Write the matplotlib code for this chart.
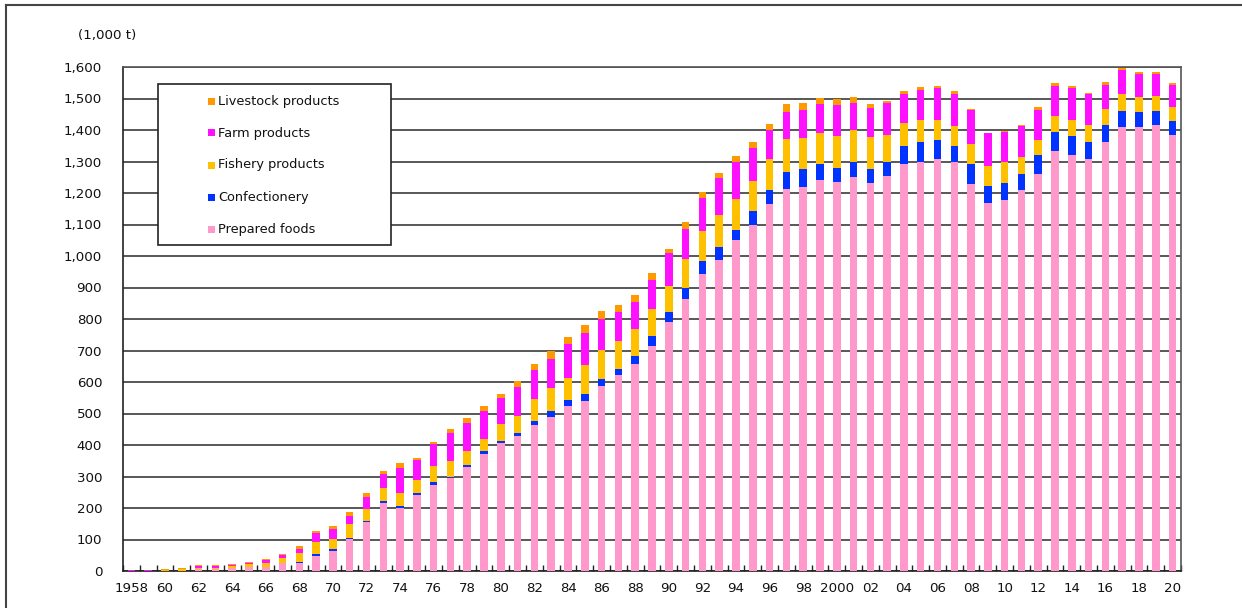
import numpy as np
import matplotlib
matplotlib.use("Agg")
import matplotlib.pyplot as plt
from matplotlib.patches import Rectangle
from matplotlib.lines import Line2D
from matplotlib.ticker import FuncFormatter

# production by category, 1,000 t
years = list(range(1958, 2021))
prepared = [0, 0, 1, 1, 6, 5, 8, 13, 14, 24,
            26, 49, 65, 102, 154, 217, 201, 242, 274, 294,
            330, 371, 405, 429, 465, 490, 525, 541, 586, 621,
            658, 713, 789, 863, 942, 987, 1052, 1100, 1166, 1214,
            1219, 1242, 1235, 1250, 1233, 1253, 1293, 1300, 1308, 1297,
            1228, 1169, 1177, 1208, 1260, 1333, 1320, 1308, 1361, 1409,
            1408, 1416, 1385]
confectionery = [0, 0, 0, 0, 0, 0, 0, 0, 0, 0,
                 1, 5, 5, 4, 4, 6, 6, 5, 9, 6,
                 8, 9, 8, 8, 12, 19, 18, 20, 23, 20,
                 23, 32, 32, 36, 42, 40, 31, 43, 44, 52,
                 56, 49, 44, 50, 42, 47, 56, 61, 61, 52,
                 65, 53, 55, 53, 60, 60, 60, 53, 55, 51,
                 49, 44, 43]
fishery = [0, 0, 2, 5, 5, 5, 7, 9, 12, 17,
           30, 39, 32, 42, 39, 40, 42, 43, 51, 50,
           44, 39, 53, 56, 68, 73, 71, 93, 93, 89,
           88, 88, 85, 92, 94, 104, 99, 95, 97, 104,
           99, 99, 103, 101, 102, 85, 72, 71, 63, 63,
           64, 63, 65, 52, 48, 52, 52, 55, 52, 53,
           47, 48, 44]
farm = [4, 4, 0, 0, 6, 6, 4, 4, 8, 9,
        14, 29, 32, 28, 39, 45, 78, 61, 68, 88,
        88, 90, 84, 92, 92, 92, 107, 100, 99, 91,
        84, 90, 105, 95, 105, 116, 116, 105, 92, 88,
        88, 92, 96, 84, 92, 100, 92, 95, 101, 101,
        105, 104, 96, 99, 96, 96, 101, 97, 76, 78,
        73, 71, 72]
livestock = [0, 0, 2, 3, 3, 3, 3, 3, 3, 4,
             7, 4, 8, 11, 11, 11, 16, 8, 9, 14,
             17, 14, 13, 17, 20, 23, 21, 28, 24, 24,
             22, 24, 12, 21, 20, 15, 20, 19, 19, 23,
             25, 21, 20, 20, 12, 8, 11, 9, 7, 11,
             6, 3, 4, 4, 8, 8, 7, 3, 8, 5,
             7, 5, 5]

W, H = 1242, 608

def fx(px):
    return px / W

def fy(py):
    return 1 - py / H

series = [
    ("Prepared foods", prepared, "#FF99CC"),
    ("Confectionery", confectionery, "#0033FF"),
    ("Fishery products", fishery, "#FFC000"),
    ("Farm products", farm, "#FF11FF"),
    ("Livestock products", livestock, "#FF9900"),
]

plt.rcParams["font.family"] = "DejaVu Sans"

fig = plt.figure(figsize=(W / 100, H / 100), dpi=100)
ax = fig.add_axes([fx(123), 1 - 571 / H, (1181 - 123) / W, (571 - 67) / H])

x = np.arange(len(years))
bottom = np.zeros(len(years))
for label, vals, color in series:
    ax.bar(x, vals, width=0.45, bottom=bottom, color=color, label=label, zorder=3)
    bottom += np.array(vals)

ax.set_xlim(-0.5, len(years) - 0.5)
ax.set_ylim(0, 1600)
ax.set_yticks(range(0, 1601, 100))
ax.yaxis.set_major_formatter(FuncFormatter(lambda v, p: f"{v:,.0f}"))
ax.yaxis.grid(True, color="#2a2a2a", linewidth=1.1)
ax.set_axisbelow(True)

tick_pos = x[::2]
tick_lab = []
for i in tick_pos:
    yr = years[i]
    if yr == 1958 or yr == 2000:
        tick_lab.append(str(yr))
    else:
        tick_lab.append(f"{yr % 100:02d}")
ax.set_xticks(tick_pos)
ax.set_xticklabels(tick_lab)
ax.set_xticks(np.arange(-0.5, len(years), 1), minor=True)
ax.tick_params(axis="x", which="major", length=0, pad=8, labelsize=9.6, colors="#111111")
ax.tick_params(axis="x", which="minor", direction="in", length=4, width=1, color="#222222")
ax.tick_params(axis="y", length=0, pad=15, labelsize=9.6, colors="#111111")

for side in ["left", "bottom"]:
    ax.spines[side].set_color("#222222")
    ax.spines[side].set_linewidth(1.2)
for side in ["top", "right"]:
    ax.spines[side].set_color("#555555")
    ax.spines[side].set_linewidth(1.2)

fig.text(fx(78), fy(35), "(1,000 t)", fontsize=9.6, va="center", ha="left", color="#111111")

# legend box, top entry first
fig.add_artist(Rectangle((fx(158), fy(245)), fx(391) - fx(158), fy(84) - fy(245),
                         transform=fig.transFigure, facecolor="white",
                         edgecolor="#222222", linewidth=1.2, zorder=5))
for i, (label, vals, color) in enumerate(series[::-1]):
    yy = 101 + 32 * i
    fig.add_artist(Rectangle((fx(208), fy(yy + 3.5)), fx(7), 7 / H,
                             transform=fig.transFigure, facecolor=color,
                             edgecolor="none", zorder=6))
    fig.text(fx(218), fy(yy), label, fontsize=9.3, va="center", ha="left",
             color="#111111", zorder=6)

# outer frame
fig.add_artist(Line2D([fx(6), 1], [fy(5), fy(5)], transform=fig.transFigure,
                      color="#444444", linewidth=1.5))
fig.add_artist(Line2D([fx(6), fx(6)], [fy(5), 0], transform=fig.transFigure,
                      color="#444444", linewidth=1.5))

fig.savefig("out.png", dpi=100)
